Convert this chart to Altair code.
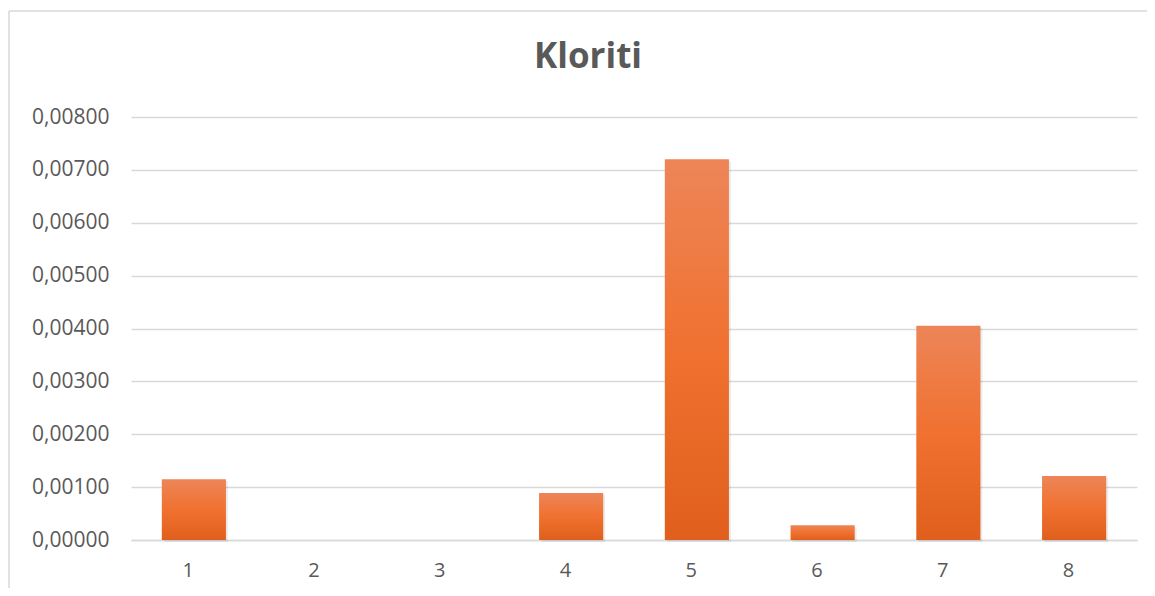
import altair as alt
import pandas as pd

categories = ["1", "2", "3", "4", "5", "6", "7", "8"]
values = [0.00115, 0.0, 0.0, 0.00089, 0.00720, 0.00028, 0.00405, 0.00121]
title_text = ["Kloriti"]

df = pd.DataFrame({"cat": categories, "val": values})
tdf = pd.DataFrame({"t": title_text})

FONT = "Open Sans"
GRAY = "#595959"

gradient = alt.LinearGradient(
    gradient="linear",
    stops=[
        alt.GradientStop(color="#ED8558", offset=0),
        alt.GradientStop(color="#F07130", offset=0.5),
        alt.GradientStop(color="#E05F1C", offset=1),
    ],
    x1=0, x2=0, y1=0, y2=1,
)

base = alt.Chart(df)

shadow = base.mark_bar(color="#000000", opacity=0.08, xOffset=2, yOffset=2).encode(
    x=alt.X("cat:N", sort=categories),
    y=alt.Y("val:Q"),
)

bars = base.mark_bar(color=gradient).encode(
    x=alt.X(
        "cat:N",
        sort=categories,
        title=None,
        scale=alt.Scale(paddingInner=0.49, paddingOuter=0.245),
        axis=alt.Axis(
            labelAngle=0,
            labelFontSize=20,
            labelColor=GRAY,
            labelFont=FONT,
            labelPadding=30,
            ticks=False,
            domainColor="#d9d9d9",
            domainWidth=1.5,
        ),
    ),
    y=alt.Y(
        "val:Q",
        title=None,
        scale=alt.Scale(domain=[0, 0.008], nice=False),
        axis=alt.Axis(
            values=[0, 0.001, 0.002, 0.003, 0.004, 0.005, 0.006, 0.007, 0.008],
            labelExpr="replace(format(datum.value, '.5f'), '.', ',')",
            labelFontSize=21,
            labelColor=GRAY,
            labelFont=FONT,
            labelPadding=22,
            ticks=False,
            domain=False,
            gridColor="#d9d9d9",
            gridWidth=1.3,
        ),
    ),
)

title = alt.Chart(tdf).mark_text(
    font=FONT, fontSize=35, fontWeight="bold", color=GRAY,
    align="center", baseline="alphabetic",
).encode(text="t:N", x=alt.value(457), y=alt.value(-49))

border_left = alt.Chart(tdf).mark_rule(color="#d9d9d9", strokeWidth=1.5).encode(
    x=alt.value(-122), y=alt.value(-106), y2=alt.value(600)
)
border_top = alt.Chart(tdf).mark_rule(color="#d9d9d9", strokeWidth=1.5).encode(
    x=alt.value(-122), x2=alt.value(1030), y=alt.value(-106)
)

chart = (
    alt.layer(border_left, border_top, title, shadow, bars)
    .properties(
        width=1006,
        height=423,
        autosize="none",
        padding={"left": 123, "top": 109, "right": 10, "bottom": 48},
    )
    .configure_view(stroke=None)
)

chart.save("out.html", embed_options={"renderer": "svg", "actions": False})
